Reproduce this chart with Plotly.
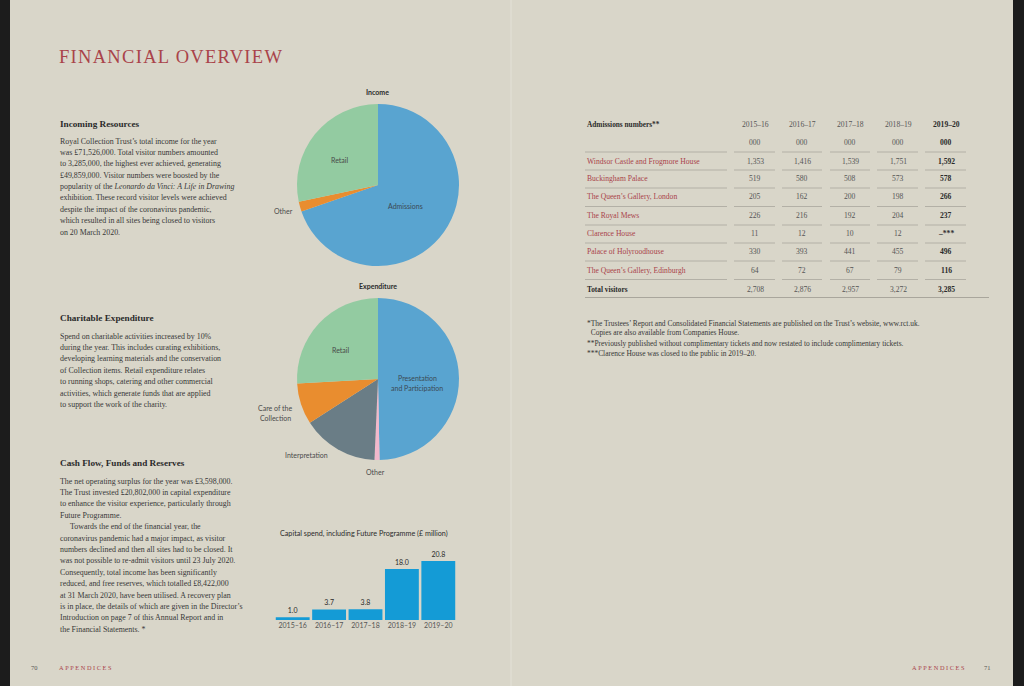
import plotly.graph_objects as go

W, H = 1024, 686

# ---------------- data ----------------
income_labels = ["Admissions", "Other", "Retail"]
income_values = [49.86, 1.40, 20.27]
income_colors = ["#59a4d0", "#e98d2f", "#93cba1"]

exp_labels = ["Presentation and Participation", "Other", "Interpretation", "Care of the Collection", "Retail"]
exp_values = [49.7, 1.0, 15.2, 8.2, 25.9]
exp_colors = ["#59a4d0", "#f2b8cc", "#6a7d86", "#e98d2f", "#93cba1"]

capex_years = ["2015–16", "2016–17", "2017–18", "2018–19", "2019–20"]
capex_values = [1.0, 3.7, 3.8, 18.0, 20.8]

table_years = ["2015–16", "2016–17", "2017–18", "2018–19", "2019–20"]
sites = ["Windsor Castle and Frogmore House", "Buckingham Palace", "The Queen’s Gallery, London",
         "The Royal Mews", "Clarence House", "Palace of Holyroodhouse", "The Queen’s Gallery, Edinburgh"]
windsor = [1353, 1416, 1539, 1751, 1592]
buckingham = [519, 580, 508, 573, 578]
qg_london = [205, 162, 200, 198, 266]
royal_mews = [226, 216, 192, 204, 237]
clarence = [11, 12, 10, 12, None]
holyrood = [330, 393, 441, 455, 496]
qg_edinburgh = [64, 72, 67, 79, 116]
totals = [2708, 2876, 2957, 3272, 3285]
site_rows = [windsor, buckingham, qg_london, royal_mews, clarence, holyrood, qg_edinburgh]

incoming_text = [
    "Royal Collection Trust’s total income for the year",
    "was £71,526,000. Total visitor numbers amounted",
    "to 3,285,000, the highest ever achieved, generating",
    "£49,859,000. Visitor numbers were boosted by the",
    "popularity of the <i>Leonardo da Vinci: A Life in Drawing</i>",
    "exhibition. These record visitor levels were achieved",
    "despite the impact of the coronavirus pandemic,",
    "which resulted in all sites being closed to visitors",
    "on 20 March 2020.",
]
charitable_text = [
    "Spend on charitable activities increased by 10%",
    "during the year. This includes curating exhibitions,",
    "developing learning materials and the conservation",
    "of Collection items. Retail expenditure relates",
    "to running shops, catering and other commercial",
    "activities, which generate funds that are applied",
    "to support the work of the charity.",
]
cashflow_text = [
    "The net operating surplus for the year was £3,598,000.",
    "The Trust invested £20,802,000 in capital expenditure",
    "to enhance the visitor experience, particularly through",
    "Future Programme.",
    "Towards the end of the financial year, the",
    "coronavirus pandemic had a major impact, as visitor",
    "numbers declined and then all sites had to be closed. It",
    "was not possible to re-admit visitors until 23 July 2020.",
    "Consequently, total income has been significantly",
    "reduced, and free reserves, which totalled £8,422,000",
    "at 31 March 2020, have been utilised. A recovery plan",
    "is in place, the details of which are given in the Director’s",
    "Introduction on page 7 of this Annual Report and in",
    "the Financial Statements. *",
]
footnotes = [
    "*The Trustees’ Report and Consolidated Financial Statements are published on the Trust’s website, www.rct.uk.",
    "  Copies are also available from Companies House.",
    "**Previously published without complimentary tickets and now restated to include complimentary tickets.",
    "***Clarence House was closed to the public in 2019–20.",
]

# ---------------- helpers ----------------
def px(x):
    return x / W

def py(y):
    return 1 - y / H

SERIF = "Liberation Serif"
SANS = "Lato"
BG = "#d9d6c9"
RED = "#a9434a"
DARK = "#2b2b2b"
BODY = "#383838"
GREYNUM = "#555555"

fig = go.Figure()
annotations = []
shapes = []

def text(x, y, s, size=7.7, color=BODY, family=SERIF, anchor="left", **kw):
    annotations.append(dict(x=px(x), y=py(y), xref="paper", yref="paper", text=s, showarrow=False,
                            xanchor=anchor, yanchor="middle",
                            font=dict(size=size, color=color, family=family), **kw))

def spaced(s, sp):
    return f'<span style="letter-spacing:{sp}px">{s}</span>'

# background
shapes.append(dict(type="rect", xref="paper", yref="paper", x0=px(10), x1=px(1013), y0=0, y1=1,
                   fillcolor=BG, line=dict(width=0), layer="below"))
shapes.append(dict(type="line", xref="paper", yref="paper", x0=px(511), x1=px(511), y0=0, y1=1,
                   line=dict(color="#e3e1d7", width=1), layer="below"))

# ---------------- pies ----------------
def pie_domain(cx, cy, r):
    return dict(x=[px(cx - r), px(cx + r)], y=[py(cy + r), py(cy - r)])

fig.add_trace(go.Pie(labels=income_labels, values=income_values, sort=False, direction="clockwise",
                     rotation=0, marker=dict(colors=income_colors, line=dict(width=0)),
                     textinfo="none", hoverinfo="label+value", showlegend=False,
                     domain=pie_domain(378, 185, 81)))
fig.add_trace(go.Pie(labels=exp_labels, values=exp_values, sort=False, direction="clockwise",
                     rotation=0, marker=dict(colors=exp_colors, line=dict(width=0)),
                     textinfo="none", hoverinfo="label+value", showlegend=False,
                     domain=pie_domain(378, 379, 81)))

PIE_LBL = "#4a4a4a"
text(377, 92, "<b>Income</b>", size=7, color=DARK, family=SANS, anchor="center")
text(339, 160, "Retail", size=7, color=PIE_LBL, family=SANS, anchor="center")
text(405, 206, "Admissions", size=7, color="#3b4a55", family=SANS, anchor="center")
text(283, 211, "Other", size=7, color=PIE_LBL, family=SANS, anchor="center")

text(378, 286, "<b>Expenditure</b>", size=7, color=DARK, family=SANS, anchor="center")
text(340, 350, "Retail", size=7, color=PIE_LBL, family=SANS, anchor="center")
text(417, 378, "Presentation", size=7, color="#3b4a55", family=SANS, anchor="center")
text(417, 388, "and Participation", size=7, color="#3b4a55", family=SANS, anchor="center")
text(275, 408, "Care of the", size=7, color=PIE_LBL, family=SANS, anchor="center")
text(275, 418, "Collection", size=7, color=PIE_LBL, family=SANS, anchor="center")
text(306, 455, "Interpretation", size=7, color=PIE_LBL, family=SANS, anchor="center")
text(375, 472, "Other", size=7, color=PIE_LBL, family=SANS, anchor="center")

# ---------------- capital spend bars ----------------
fig.add_trace(go.Bar(x=capex_years, y=capex_values, marker=dict(color="#149bd6", line=dict(width=0)),
                     text=[f"{v:.1f}" for v in capex_values], textposition="outside",
                     textfont=dict(size=7, color=DARK, family=SANS), cliponaxis=False,
                     showlegend=False, hoverinfo="x+y"))
y_top = 22.0
ppu = 2.84
fig.update_layout(
    xaxis=dict(domain=[px(274.5), px(456.5)], showgrid=False, zeroline=False, showline=False,
               ticks="", tickfont=dict(size=7, color=GREYNUM, family=SANS), anchor="y", fixedrange=True),
    yaxis=dict(domain=[py(620), py(620 - y_top * ppu)], range=[0, y_top], visible=False, fixedrange=True),
    bargap=0.07,
)
text(364, 533, "Capital spend, including Future Programme (£ million)", size=7.2, color=DARK, family=SANS,
     anchor="center")

# ---------------- left column text ----------------
text(57, 57, spaced("FINANCIAL OVERVIEW", 1.3), size=18.5, color=RED, family=SERIF)

def block(head, head_y, lines, first_y, indent_idx=None):
    text(58, head_y, "<b>" + head + "</b>", size=9.2, color=DARK)
    for i, ln in enumerate(lines):
        x = 68 if indent_idx is not None and i == indent_idx else 58
        text(x, first_y + i * 11.4, ln, size=7.9, color=BODY)

block("Incoming Resources", 124, incoming_text, 141)
block("Charitable Expenditure", 318, charitable_text, 336)
block("Cash Flow, Funds and Reserves", 463, cashflow_text, 481, indent_idx=4)

# ---------------- table ----------------
TS = 7.6
col_x = [755, 802, 850, 898, 946]
seg = [(734, 775), (782, 822), (830, 870), (877, 918), (925, 966)]
text(585, 124, "<b>Admissions numbers**</b>", size=7.3, color=DARK)
for j, yr in enumerate(table_years):
    if j == 4:
        text(col_x[j], 124, "<b>" + yr + "</b>", size=TS, color=DARK, anchor="center")
        text(col_x[j], 142, "<b>000</b>", size=TS, color=DARK, anchor="center")
    else:
        text(col_x[j], 124, yr, size=TS, color=GREYNUM, anchor="center")
        text(col_x[j], 142, "000", size=TS, color=GREYNUM, anchor="center")

row_y = [161, 179, 197, 215.5, 234, 252, 270]
line_y = [152, 170, 188, 206.5, 225, 243, 261, 279.5]
for ly in line_y:
    shapes.append(dict(type="line", xref="paper", yref="paper", x0=px(585), x1=px(727), y0=py(ly), y1=py(ly),
                       line=dict(color="#b3b0a6", width=1)))
    for a, b in seg:
        shapes.append(dict(type="line", xref="paper", yref="paper", x0=px(a), x1=px(b), y0=py(ly), y1=py(ly),
                           line=dict(color="#b3b0a6", width=1)))
shapes.append(dict(type="line", xref="paper", yref="paper", x0=px(585), x1=px(989), y0=py(297.5), y1=py(297.5),
                   line=dict(color="#a9a69c", width=1.2)))

def fmt(v):
    return "–***" if v is None else f"{v:,}"

for i, (site, vals) in enumerate(zip(sites, site_rows)):
    text(585, row_y[i], site, size=TS, color=RED)
    for j, v in enumerate(vals):
        if j == 4:
            text(col_x[j], row_y[i], "<b>" + fmt(v) + "</b>", size=TS, color=DARK, anchor="center")
        else:
            text(col_x[j], row_y[i], fmt(v), size=TS, color=GREYNUM, anchor="center")

text(585, 289, "<b>Total visitors</b>", size=7.3, color=DARK)
for j, v in enumerate(totals):
    if j == 4:
        text(col_x[j], 289, "<b>" + fmt(v) + "</b>", size=TS, color=DARK, anchor="center")
    else:
        text(col_x[j], 289, fmt(v), size=TS, color=GREYNUM, anchor="center")

for i, ln in enumerate(footnotes):
    text(585, 323 + i * 10, ln, size=7.45, color=BODY)

# ---------------- footers ----------------
text(34, 667, "70", size=6.5, color=GREYNUM, anchor="center")
text(57, 667, spaced("APPENDICES", 1.6), size=6.3, color=RED)
text(968, 667, spaced("APPENDICES", 1.6), size=6.3, color=RED, anchor="right")
text(987, 667, "71", size=6.5, color=GREYNUM, anchor="center")

fig.update_layout(
    width=W, height=H, margin=dict(l=0, r=0, t=0, b=0, pad=0),
    paper_bgcolor="#1c1c1c", plot_bgcolor="rgba(0,0,0,0)",
    annotations=annotations, shapes=shapes, showlegend=False,
)

fig.write_html("out.html", config={"displayModeBar": False},
               post_script="document.body.style.margin='0';document.body.style.background='#1c1c1c';")
